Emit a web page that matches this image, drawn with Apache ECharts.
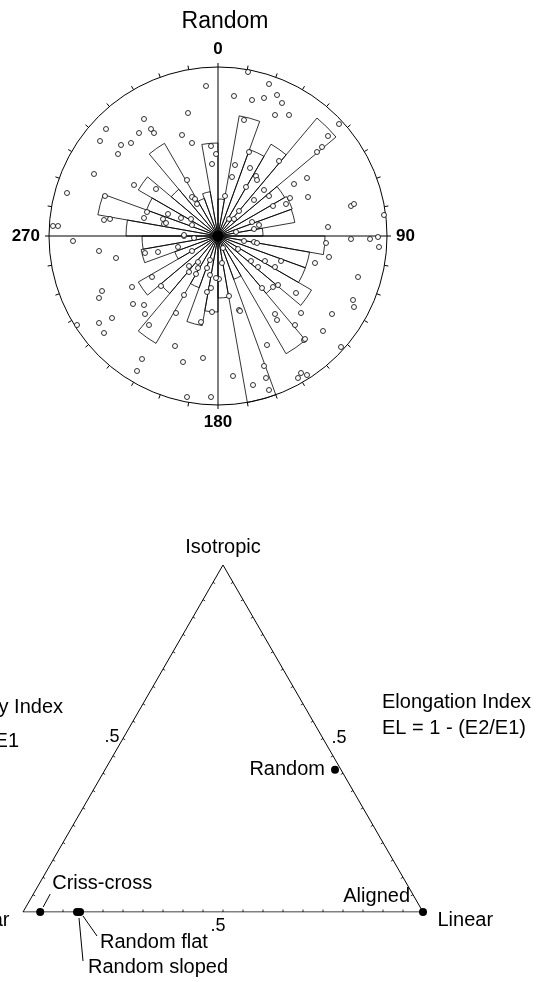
<!DOCTYPE html>
<html>
<head>
<meta charset="utf-8">
<script src="https://cdn.jsdelivr.net/npm/echarts@6/dist/echarts.min.js"></script>
<style>
	html, body { margin: 0; padding: 0; background: #fff; }
	#main { width: 539px; height: 982px; }
</style>
</head>
<body>
<div id="main"></div>
<script>
// rose: 10 degree bins, lengths in plot units (outer circle = 169)
var roseBins = ['0','10','20','30','40','50','60','70','80','90','100','110',
	'120','130','140','150','160','170','180','190','200','210','220','230',
	'240','250','260','270','280','290','300','310','320','330','340','350'];
var roseLengths = [37,122,92,106,154,77,79,78,45,107,93,93,
	108,75,136,46,169,62,76,91,55,124,75,92,
	46,78,76,92,122,76,92,61,107,40,45,93];
var roseMax = 169;
var compassLabels = ['0','90','180','270'];

// sample positions (east, north) in the same plot units
var pointsNE = [[30,164],[51,152],[16,140],[34,136],[46,138],[59,141],[64,133],[57,121],[71,121],[26,116],
	[121,112],[110,100],[104,89],[99,84],[31,84],[61,75],[17,71],[32,68],[38,60],[39,56],[14,59],[89,58],
	[76,52],[28,49],[46,46],[51,40],[72,38],[90,39],[36,36],[68,32],[55,30],[133,30],[136,32],[166,21],
	[7,40],[21,25],[11,17],[16,17],[34,14],[41,11],[36,7],[110,9],[18,4]];
var pointsSE = [[133,-3],[152,-3],[160,-1],[161,-11],[26,-5],[36,-6],[39,-7],[108,-7],[111,-21],[97,-27],
	[20,-13],[33,-25],[47,-25],[63,-25],[40,-31],[57,-31],[4,-27],[140,-41],[44,-52],[55,-51],[60,-49],
	[78,-57],[1,-43],[11,-60],[135,-64],[136,-71],[83,-77],[114,-78],[57,-78],[59,-84],[21,-74],[22,-75],
	[77,-89],[105,-95],[86,-104],[87,-103],[49,-109],[123,-111],[46,-130],[48,-142],[51,-154],[35,-149],
	[15,-140],[83,-137],[89,-139],[80,-142],[5,-12]];
var pointsSW = [[-145,-5],[-119,-15],[-102,-22],[-73,-17],[-60,-16],[-40,-11],[-34,0],[-24,-2],[-26,-15],
	[-20,-26],[-29,-30],[-20,-32],[-11,-32],[-8,-24],[-29,-36],[-22,-38],[-8,-39],[-2,-42],[-66,-41],
	[-57,-50],[-7,-52],[-11,-56],[-86,-51],[-116,-55],[-119,-62],[-34,-59],[-85,-68],[-74,-69],[-73,-78],
	[-42,-77],[-6,-76],[-106,-82],[-119,-87],[-114,-97],[-141,-89],[-17,-86],[-69,-89],[-43,-110],
	[-76,-123],[-81,-135],[-35,-126],[-15,-122],[-31,-161],[-7,-161]];
var pointsNW = [[-12,150],[-30,123],[-74,117],[-112,107],[-79,103],[-67,107],[-64,103],[-36,101],[-26,93],
	[-7,90],[-118,95],[-97,91],[-87,93],[-100,82],[-6,72],[-124,62],[-84,51],[-62,47],[-31,56],[-151,43],
	[-113,40],[-26,39],[-23,37],[-21,32],[-71,24],[-50,22],[-37,18],[-27,17],[-55,17],[-54,12],[-52,13],
	[-114,16],[-108,17],[-74,18],[-165,10],[-160,10],[-26,11],[-34,1],[-2,82]];
var centerPoint = [[0,0]];

// ternary: fractions of isotropic and linear (planar = rest)
var ternaryNames = ['Random','Criss-cross','Random flat','Random sloped','Aligned'];
var isotropyVals = [0.41, 0, 0, 0, 0];
var linearVals = [0.575, 0.043, 0.1425, 0.135, 1.0];
var vertexNames = ['Planar','Linear','Isotropic'];
var sideMidLabels = ['.5','.5','.5'];
var tickFractions = [0.05,0.1,0.15,0.2,0.25,0.3,0.35,0.4,0.45,0.5,0.55,0.6,0.65,0.7,0.75,0.8,0.85,0.9,0.95];

var FONT = '"Liberation Sans", Arial, Helvetica, sans-serif';
var SQ = Math.sqrt(3) / 2;

function toXY(iso, lin){
	return [lin + iso * 0.5, iso * SQ];
}
var triVerts = [toXY(0,0), toXY(0,1), toXY(1,0)];
var triCentroid = toXY(1/3, 1/3);

var chart = echarts.init(document.getElementById('main'), null, {renderer: 'canvas'});

var allPoints = pointsNE.concat(pointsSE, pointsSW, pointsNW);

var ternaryData = [];
for (var i = 0; i < ternaryNames.length; i++) {
	var xy = toXY(isotropyVals[i], linearVals[i]);
	ternaryData.push({name: ternaryNames[i], value: [xy[0], xy[1]]});
}
// label placement for each point (style only)
var labelPlace = {
	'Random': {position: 'left', distance: 6},
	'Criss-cross': {position: [16, -25], align: 'left', verticalAlign: 'middle'},
	'Random flat': {position: [24, 34], align: 'left', verticalAlign: 'middle'},
	'Random sloped': {position: [15, 59], align: 'left', verticalAlign: 'middle'},
	'Aligned': {position: [-9, -12], align: 'right', verticalAlign: 'middle'}
};
for (var i = 0; i < ternaryData.length; i++) {
	var lp = labelPlace[ternaryData[i].name];
	ternaryData[i].label = {
		show: true, position: lp.position, distance: lp.distance || 5,
		align: lp.align, verticalAlign: lp.verticalAlign,
		formatter: '{b}', fontSize: 20, color: '#000', fontFamily: FONT
	};
}
var leaderOffsets = {
	'Criss-cross': [[3,-5],[10,-18]],
	'Random flat': [[3,4],[17,24]],
	'Random sloped': [[2,6],[6,49]]
};
var leaderData = [];
for (var i = 0; i < ternaryData.length; i++) {
	if (leaderOffsets[ternaryData[i].name]) {
		leaderData.push({name: ternaryData[i].name, value: ternaryData[i].value});
	}
}

var vertexPlace = [
	{position: 'left', distance: 13, offset: [0, 8]},
	{position: 'right', distance: 14, offset: [0, 8]},
	{position: 'top', distance: 7, offset: [0, 0]}
];
var vertexData = [];
for (var i = 0; i < 3; i++) {
	vertexData.push({name: vertexNames[i], value: triVerts[i],
		label: {show: true, formatter: '{b}', position: vertexPlace[i].position,
			distance: vertexPlace[i].distance, offset: vertexPlace[i].offset,
			fontSize: 20, color: '#000', fontFamily: FONT}});
}

var midPlace = [
	{position: 'bottom', distance: 5, offset: [-5, 0]},
	{position: 'right', distance: 8, offset: [0, 0]},
	{position: 'left', distance: 3, offset: [0, -1]}
];
var midData = [];
for (var i = 0; i < 3; i++) {
	var a = triVerts[i], b = triVerts[(i + 1) % 3];
	midData.push({name: sideMidLabels[i], value: [(a[0] + b[0]) / 2, (a[1] + b[1]) / 2],
		label: {show: true, formatter: '{b}', position: midPlace[i].position,
			distance: midPlace[i].distance, offset: midPlace[i].offset,
			fontSize: 18, color: '#000', fontFamily: FONT}});
}

var tickData = [];
for (var s = 0; s < 3; s++) {
	for (var k = 0; k < tickFractions.length; k++) {
		tickData.push([s, tickFractions[k]]);
	}
}

function triTickItem(params, api){
	var side = api.value(0), f = api.value(1);
	var pa = api.coord(triVerts[side]), pb = api.coord(triVerts[(side + 1) % 3]);
	var pc = api.coord(triCentroid);
	var px = pa[0] + (pb[0] - pa[0]) * f, py = pa[1] + (pb[1] - pa[1]) * f;
	var dx = pb[0] - pa[0], dy = pb[1] - pa[1];
	var len = Math.sqrt(dx * dx + dy * dy);
	var nx = -dy / len, ny = dx / len;
	if ((pc[0] - px) * nx + (pc[1] - py) * ny < 0) { nx = -nx; ny = -ny; }
	return {type: 'line', shape: {x1: px, y1: py, x2: px + nx * 2.5, y2: py + ny * 2.5},
		style: {stroke: '#000', lineWidth: 0.8}};
}

function leaderItem(params, api){
	var name = leaderData[params.dataIndex].name;
	var off = leaderOffsets[name];
	var p = api.coord([api.value(0), api.value(1)]);
	return {type: 'line', shape: {x1: p[0] + off[0][0], y1: p[1] + off[0][1], x2: p[0] + off[1][0], y2: p[1] + off[1][1]},
		style: {stroke: '#000', lineWidth: 1}};
}

var labelHolder = {color: 'rgba(0,0,0,0)', opacity: 1};

var option = {
	animation: false,
	backgroundColor: '#fff',
	title: {
		text: 'Random', left: 220, top: 5, textAlign: 'center',
		textStyle: {fontSize: 23, fontWeight: 'normal', color: '#000', fontFamily: FONT}
	},
	polar: [
		{center: [218, 236], radius: 169},
		{center: [218, 236], radius: 169}
	],
	angleAxis: [
		{
			polarIndex: 0, type: 'category', data: roseBins, startAngle: 90, clockwise: true,
			boundaryGap: true,
			axisLine: {show: false}, axisTick: {show: false}, axisLabel: {show: false}, splitLine: {show: false}
		},
		{
			polarIndex: 1, type: 'value', min: 0, max: 360, interval: 90, startAngle: 90, clockwise: true,
			axisLine: {lineStyle: {color: '#000', width: 1}},
			axisTick: {show: true, length: 4, lineStyle: {color: '#000', width: 1}},
			minorTick: {show: true, splitNumber: 9, length: 4, lineStyle: {color: '#000', width: 1}},
			splitLine: {show: true, lineStyle: {color: '#000', width: 1}},
			axisLabel: {
				margin: 9, color: '#000', fontSize: 17, fontWeight: 'bold', fontFamily: FONT,
				formatter: function(v){ return v >= 360 ? '' : compassLabels[Math.round(v / 90)]; }
			}
		}
	],
	radiusAxis: [
		{polarIndex: 0, type: 'value', min: 0, max: roseMax, show: false},
		{polarIndex: 1, type: 'value', min: 0, max: roseMax, show: false}
	],
	grid: [
		{left: 218 - 169, top: 236 - 169, width: 338, height: 338},
		{left: 23, top: 565, width: 400, height: 347}
	],
	xAxis: [
		{gridIndex: 0, type: 'value', min: -roseMax, max: roseMax, show: false},
		{gridIndex: 1, type: 'value', min: 0, max: 1, show: false}
	],
	yAxis: [
		{gridIndex: 0, type: 'value', min: -roseMax, max: roseMax, show: false},
		{gridIndex: 1, type: 'value', min: 0, max: SQ, show: false}
	],
	graphic: [
		{type: 'text', x: 63, y: 707, style: {text: 'Isotropy Index', align: 'right', verticalAlign: 'middle', font: '20px ' + FONT, fill: '#000'}},
		{type: 'text', x: 19, y: 741, style: {text: 'IS = E3/E1', align: 'right', verticalAlign: 'middle', font: '20px ' + FONT, fill: '#000'}},
		{type: 'text', x: 382, y: 702, style: {text: 'Elongation Index', align: 'left', verticalAlign: 'middle', font: '20px ' + FONT, fill: '#000'}},
		{type: 'text', x: 382, y: 728, style: {text: 'EL = 1 - (E2/E1)', align: 'left', verticalAlign: 'middle', font: '20px ' + FONT, fill: '#000'}}
	],
	series: [
		{
			name: 'rose', type: 'bar', coordinateSystem: 'polar', polarIndex: 0,
			data: roseLengths, barCategoryGap: '0%', silent: true, z: 3,
			itemStyle: {color: 'rgba(255,255,255,0)', borderColor: '#000', borderWidth: 0.8}
		},
		{
			name: 'samples', type: 'scatter', xAxisIndex: 0, yAxisIndex: 0,
			data: allPoints, symbol: 'circle', symbolSize: 5, silent: true, z: 4, clip: false,
			itemStyle: {color: '#fff', borderColor: '#000', borderWidth: 0.8, opacity: 1}
		},
		{
			name: 'center', type: 'scatter', xAxisIndex: 0, yAxisIndex: 0,
			data: centerPoint, symbolSize: 11, silent: true, z: 5,
			itemStyle: {color: '#000', opacity: 1}
		},
		{
			name: 'triangle', type: 'line', xAxisIndex: 1, yAxisIndex: 1,
			data: triVerts.concat([triVerts[0]]), symbol: 'none', silent: true,
			lineStyle: {color: '#000', width: 1}
		},
		{
			name: 'triTicks', type: 'custom', xAxisIndex: 1, yAxisIndex: 1,
			data: tickData, renderItem: triTickItem, silent: true
		},
		{
			name: 'vertices', type: 'scatter', xAxisIndex: 1, yAxisIndex: 1,
			data: vertexData, symbol: 'circle', symbolSize: 1, silent: true, clip: false,
			itemStyle: labelHolder
		},
		{
			name: 'midLabels', type: 'scatter', xAxisIndex: 1, yAxisIndex: 1,
			data: midData, symbol: 'circle', symbolSize: 1, silent: true, clip: false,
			itemStyle: labelHolder
		},
		{
			name: 'leaders', type: 'custom', xAxisIndex: 1, yAxisIndex: 1,
			data: leaderData, renderItem: leaderItem, silent: true
		},
		{
			name: 'fabric', type: 'scatter', xAxisIndex: 1, yAxisIndex: 1,
			data: ternaryData, symbolSize: 8, silent: true, clip: false, z: 5,
			itemStyle: {color: '#000', opacity: 1}
		}
	]
};
chart.setOption(option);
</script>
</body>
</html>
